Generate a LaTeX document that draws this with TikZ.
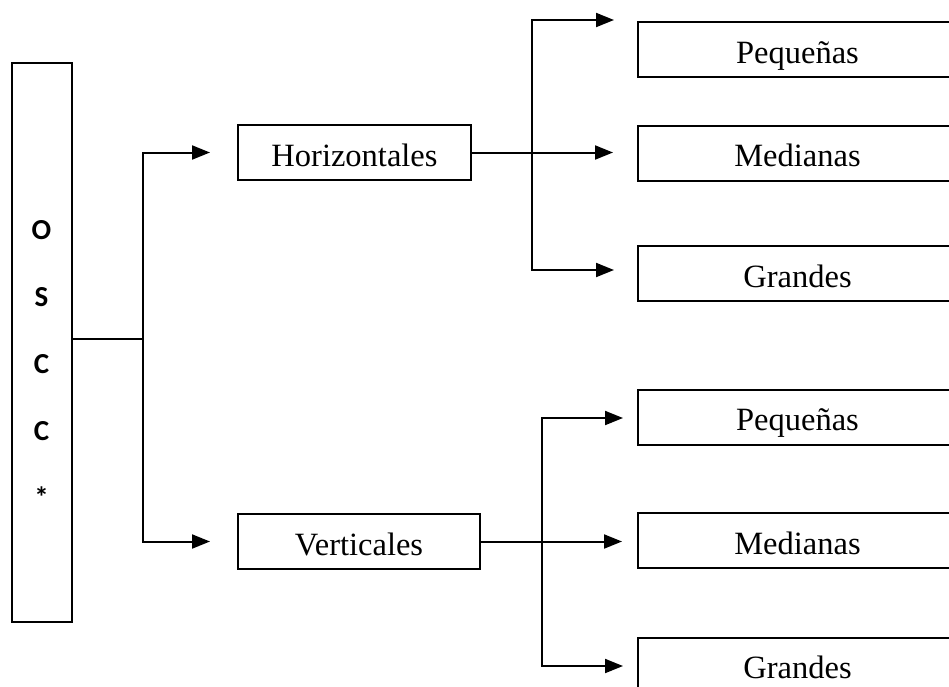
\documentclass[tikz,border=0pt]{standalone}
\usepackage{fontspec}
\setmainfont{Liberation Serif}
\newfontfamily\calib{Carlito}
\usetikzlibrary{arrows.meta}
\begin{document}
\begin{tikzpicture}[x=1pt,y=-1pt,
  box/.style={draw, line width=2pt, rectangle, inner sep=0pt, minimum height=55pt, text height=41pt, text depth=14pt, font=\fontsize{32.5}{36}\selectfont},
  rbox/.style={box, minimum width=319pt},
  conn/.style={line width=2pt},
  arr/.style={line width=2pt, -{Triangle[length=18pt,width=14pt]}}]
\useasboundingbox (0,0) rectangle (949,686);
\clip (0,0) rectangle (949,686);
% main vertical box
\node[draw, line width=2pt, rectangle, inner sep=0pt, minimum width=60pt, minimum height=559pt] (osc) at (42,342.5) {};
\node[inner sep=0pt, anchor=north, align=center, font=\calib\bfseries\fontsize{29}{67}\selectfont] (lbl) at (41.5,220) {O\\S\\C\\C\\*};
% second level
\node[box, minimum width=233pt] (hor) at (354.5,152.5) {Horizontales};
\node[box, minimum width=242pt] (ver) at (359,541.5) {Verticales};
% third level
\node[rbox] (p1) at (797.5,49.5) {Pequeñas};
\node[rbox] (m1) at (797.5,153) {Medianas};
\node[rbox] (g1) at (797.5,273.5) {Grandes};
\node[rbox] (p2) at (797.5,417) {Pequeñas};
\node[rbox] (m2) at (797.5,540.5) {Medianas};
\node[rbox] (g2) at (797.5,665) {Grandes};
% coordinates
\coordinate (j0) at (143,339);
\coordinate (t1) at (532,152.5);
\coordinate (a1) at (614,20);
\coordinate (a3) at (614,270);
\coordinate (t2) at (542,541.5);
\coordinate (b1) at (623,418);
\coordinate (b3) at (623,666);
% left connectors
\draw[conn] (osc.east |- j0) -- (j0);
\draw[arr, shorten >=27pt] (j0) |- (hor.west);
\draw[arr, shorten >=27pt] (j0) |- (ver.west);
% top right connectors
\draw[arr, shorten >=24pt] (hor.east) -- (hor.east -| m1.west);
\draw[arr] (t1) |- (a1);
\draw[arr] (t1) |- (a3);
% bottom right connectors
\draw[arr, shorten >=15pt] (ver.east) -- (ver.east -| m2.west);
\draw[arr] (t2) |- (b1);
\draw[arr] (t2) |- (b3);
\end{tikzpicture}
\end{document}
